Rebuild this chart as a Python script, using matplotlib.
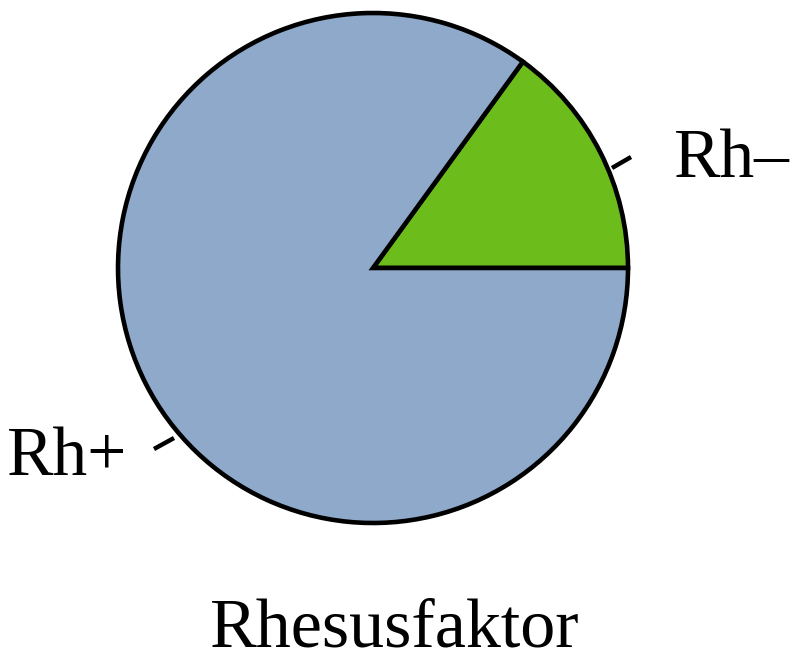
import matplotlib
matplotlib.use("Agg")
import matplotlib.pyplot as plt

labels = ["Rh–", "Rh+"]
values = [15, 85]
colors = ["#6cbc1c", "#8fa9cb"]
title = "Rhesusfaktor"

fig = plt.figure(figsize=(8, 6.62), dpi=100)
fig.patch.set_facecolor("white")
ax = fig.add_axes([118/800, 139/662, 510/800, 510/662])
ax.pie(values, colors=colors, startangle=0, counterclock=True, radius=1.0,
       wedgeprops=dict(edgecolor="black", linewidth=3.3))
ax.set_xlim(-1, 1)
ax.set_ylim(-1, 1)
ax.set_aspect("equal")
ax.axis("off")

def px(x, y):
    return ((x - 373) / 255, (268 - y) / 255)

serif = ["Liberation Serif", "DejaVu Serif"]
# leader ticks
for (x0, y0), (x1, y1) in [((612, 168), (631, 157)), ((154, 449), (174, 438))]:
    a, b = px(x0, y0); c, d = px(x1, y1)
    ax.plot([a, c], [b, d], color="black", lw=3.2, solid_capstyle="butt", clip_on=False)

tx, ty = px(674, 160)
ax.text(tx, ty, labels[0], ha="left", va="center", fontsize=50, family=serif, clip_on=False)
tx, ty = px(7, 458)
ax.text(tx, ty, labels[1], ha="left", va="center", fontsize=50, family=serif, clip_on=False)

fig.text(395/800, 1 - 630/662, title, ha="center", va="center", fontsize=50.5, family=serif)

fig.savefig("out.png", dpi=100, facecolor="white")
